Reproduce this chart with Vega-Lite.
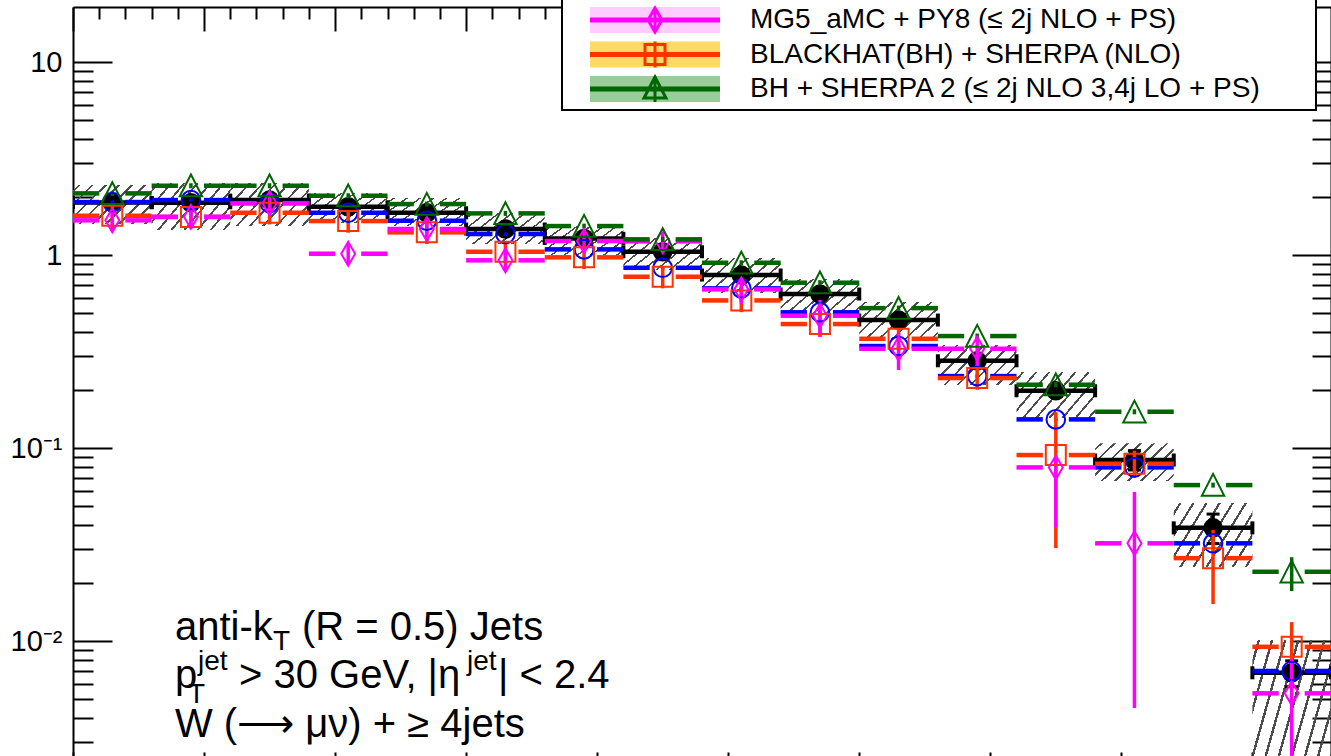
{
"$schema": "https://vega.github.io/schema/vega-lite/v6.json",
"width": 1258,
"height": 769,
"autosize": {"type": "none"},
"padding": {"left": 73, "top": 7, "right": 0, "bottom": 0},
"background": "white",
"config": {"view": {"stroke": null}, "font": "Liberation Sans", "axis": {"domainColor": "black", "domainWidth": 2, "tickColor": "black", "tickWidth": 2, "grid": false, "labelFont": "Liberation Sans", "labelColor": "black", "title": null}},
"datasets": {
"band": [
{"lo":0,"hi":0.3,"blo":1.447,"bhi":2.305},
{"lo":0.3,"hi":0.6,"blo":1.347,"bhi":2.361},
{"lo":0.6,"hi":0.9,"blo":1.413,"bhi":2.361},
{"lo":0.9,"hi":1.2,"blo":1.465,"bhi":2.096},
{"lo":1.2,"hi":1.5,"blo":1.413,"bhi":1.974},
{"lo":1.5,"hi":1.8,"blo":1.14,"bhi":1.651},
{"lo":1.8,"hi":2.1,"blo":1.0,"bhi":1.413},
{"lo":2.1,"hi":2.4,"blo":0.836,"bhi":1.225},
{"lo":2.4,"hi":2.7,"blo":0.636,"bhi":0.965},
{"lo":2.7,"hi":3.0,"blo":0.5005,"bhi":0.751},
{"lo":3.0,"hi":3.3,"blo":0.367,"bhi":0.571},
{"lo":3.3,"hi":3.6,"blo":0.212,"bhi":0.3418},
{"lo":3.6,"hi":3.9,"blo":0.143,"bhi":0.2476},
{"lo":3.9,"hi":4.2,"blo":0.0675,"bhi":0.106},
{"lo":4.2,"hi":4.5,"blo":0.02417,"bhi":0.0519},
{"lo":4.5,"hi":4.8,"blo":0.0019,"bhi":0.01012}
],
"pts": [
{"s":"D","lo":0,"hi":0.3,"x":0.15,"v":1.871,"elo":1.834,"ehi":1.908},
{"s":"D","lo":0.3,"hi":0.6,"x":0.45,"v":1.866,"elo":1.829,"ehi":1.903},
{"s":"D","lo":0.6,"hi":0.9,"x":0.75,"v":1.927,"elo":1.888,"ehi":1.966},
{"s":"D","lo":0.9,"hi":1.2,"x":1.05,"v":1.779,"elo":1.743,"ehi":1.815},
{"s":"D","lo":1.2,"hi":1.5,"x":1.35,"v":1.656,"elo":1.623,"ehi":1.689},
{"s":"D","lo":1.5,"hi":1.8,"x":1.65,"v":1.364,"elo":1.337,"ehi":1.391},
{"s":"D","lo":1.8,"hi":2.1,"x":1.95,"v":1.22,"elo":1.196,"ehi":1.244},
{"s":"D","lo":2.1,"hi":2.4,"x":2.25,"v":1.04,"elo":1.019,"ehi":1.061},
{"s":"D","lo":2.4,"hi":2.7,"x":2.55,"v":0.788,"elo":0.772,"ehi":0.804},
{"s":"D","lo":2.7,"hi":3.0,"x":2.85,"v":0.628,"elo":0.615,"ehi":0.641},
{"s":"D","lo":3.0,"hi":3.3,"x":3.15,"v":0.4605,"elo":0.451,"ehi":0.47},
{"s":"D","lo":3.3,"hi":3.6,"x":3.45,"v":0.2833,"elo":0.2776,"ehi":0.289},
{"s":"D","lo":3.6,"hi":3.9,"x":3.75,"v":0.1981,"elo":0.19,"ehi":0.206},
{"s":"D","lo":3.9,"hi":4.2,"x":4.05,"v":0.0867,"elo":0.077,"ehi":0.097},
{"s":"D","lo":4.2,"hi":4.5,"x":4.35,"v":0.0386,"elo":0.032,"ehi":0.0455},
{"s":"D","lo":4.5,"hi":4.8,"x":4.65,"v":0.00685,"elo":0.0058,"ehi":0.0079},
{"s":"M6","lo":0,"hi":0.3,"x":0.15,"v":1.882,"elo":1.844,"ehi":1.92},
{"s":"M6","lo":0.3,"hi":0.6,"x":0.45,"v":1.927,"elo":1.888,"ehi":1.966},
{"s":"M6","lo":0.6,"hi":0.9,"x":0.75,"v":1.86,"elo":1.823,"ehi":1.897},
{"s":"M6","lo":0.9,"hi":1.2,"x":1.05,"v":1.656,"elo":1.623,"ehi":1.689},
{"s":"M6","lo":1.2,"hi":1.5,"x":1.35,"v":1.506,"elo":1.476,"ehi":1.536},
{"s":"M6","lo":1.5,"hi":1.8,"x":1.65,"v":1.285,"elo":1.259,"ehi":1.311},
{"s":"M6","lo":1.8,"hi":2.1,"x":1.95,"v":1.07,"elo":1.049,"ehi":1.091},
{"s":"M6","lo":2.1,"hi":2.4,"x":2.25,"v":0.859,"elo":0.842,"ehi":0.876},
{"s":"M6","lo":2.4,"hi":2.7,"x":2.55,"v":0.672,"elo":0.659,"ehi":0.685},
{"s":"M6","lo":2.7,"hi":3.0,"x":2.85,"v":0.505,"elo":0.495,"ehi":0.515},
{"s":"M6","lo":3.0,"hi":3.3,"x":3.15,"v":0.3377,"elo":0.331,"ehi":0.3444},
{"s":"M6","lo":3.3,"hi":3.6,"x":3.45,"v":0.236,"elo":0.2313,"ehi":0.2407},
{"s":"M6","lo":3.6,"hi":3.9,"x":3.75,"v":0.1408,"elo":0.138,"ehi":0.1436},
{"s":"M6","lo":3.9,"hi":4.2,"x":4.05,"v":0.0794,"elo":0.0778,"ehi":0.081},
{"s":"M6","lo":4.2,"hi":4.5,"x":4.35,"v":0.0321,"elo":0.0315,"ehi":0.0327},
{"s":"M6","lo":4.5,"hi":4.8,"x":4.65,"v":0.007,"elo":0.00686,"ehi":0.00714},
{"s":"BH","lo":0,"hi":0.3,"x":0.15,"v":1.598,"elo":1.39,"ehi":1.806},
{"s":"BH","lo":0.3,"hi":0.6,"x":0.45,"v":1.574,"elo":1.369,"ehi":1.779},
{"s":"BH","lo":0.6,"hi":0.9,"x":0.75,"v":1.656,"elo":1.441,"ehi":1.871},
{"s":"BH","lo":0.9,"hi":1.2,"x":1.05,"v":1.5,"elo":1.305,"ehi":1.695},
{"s":"BH","lo":1.2,"hi":1.5,"x":1.35,"v":1.311,"elo":1.141,"ehi":1.481},
{"s":"BH","lo":1.5,"hi":1.8,"x":1.65,"v":1.04,"elo":0.905,"ehi":1.175},
{"s":"BH","lo":1.8,"hi":2.1,"x":1.95,"v":0.973,"elo":0.847,"ehi":1.099},
{"s":"BH","lo":2.1,"hi":2.4,"x":2.25,"v":0.772,"elo":0.672,"ehi":0.872},
{"s":"BH","lo":2.4,"hi":2.7,"x":2.55,"v":0.582,"elo":0.506,"ehi":0.658},
{"s":"BH","lo":2.7,"hi":3.0,"x":2.85,"v":0.439,"elo":0.382,"ehi":0.496},
{"s":"BH","lo":3.0,"hi":3.3,"x":3.15,"v":0.3683,"elo":0.32,"ehi":0.416},
{"s":"BH","lo":3.3,"hi":3.6,"x":3.45,"v":0.2305,"elo":0.2005,"ehi":0.2605},
{"s":"BH","lo":3.6,"hi":3.9,"x":3.75,"v":0.092,"elo":0.0303,"ehi":0.1536},
{"s":"BH","lo":3.9,"hi":4.2,"x":4.05,"v":0.0829,"elo":0.07,"ehi":0.097},
{"s":"BH","lo":4.2,"hi":4.5,"x":4.35,"v":0.0269,"elo":0.01555,"ehi":0.0376},
{"s":"BH","lo":4.5,"hi":4.8,"x":4.65,"v":0.00934,"elo":0.0062,"ehi":0.01254},
{"s":"MG","lo":0,"hi":0.3,"x":0.15,"v":1.513,"elo":1.331,"ehi":1.695},
{"s":"MG","lo":0.3,"hi":0.6,"x":0.45,"v":1.579,"elo":1.39,"ehi":1.768},
{"s":"MG","lo":0.6,"hi":0.9,"x":0.75,"v":1.853,"elo":1.631,"ehi":2.075},
{"s":"MG","lo":0.9,"hi":1.2,"x":1.05,"v":1.016,"elo":0.894,"ehi":1.138},
{"s":"MG","lo":1.2,"hi":1.5,"x":1.35,"v":1.364,"elo":1.2,"ehi":1.528},
{"s":"MG","lo":1.5,"hi":1.8,"x":1.65,"v":0.939,"elo":0.826,"ehi":1.052},
{"s":"MG","lo":1.8,"hi":2.1,"x":1.95,"v":1.182,"elo":1.04,"ehi":1.324},
{"s":"MG","lo":2.1,"hi":2.4,"x":2.25,"v":1.178,"elo":1.037,"ehi":1.319},
{"s":"MG","lo":2.4,"hi":2.7,"x":2.55,"v":0.664,"elo":0.563,"ehi":0.76},
{"s":"MG","lo":2.7,"hi":3.0,"x":2.85,"v":0.485,"elo":0.376,"ehi":0.585},
{"s":"MG","lo":3.0,"hi":3.3,"x":3.15,"v":0.327,"elo":0.254,"ehi":0.394},
{"s":"MG","lo":3.3,"hi":3.6,"x":3.45,"v":0.327,"elo":0.263,"ehi":0.376},
{"s":"MG","lo":3.6,"hi":3.9,"x":3.75,"v":0.0794,"elo":0.039,"ehi":0.088},
{"s":"MG","lo":3.9,"hi":4.2,"x":4.05,"v":0.0321,"elo":0.0045,"ehi":0.0592},
{"s":"MG","lo":4.5,"hi":4.8,"x":4.65,"v":0.00536,"elo":0.0015,"ehi":0.0081},
{"s":"S2","lo":0,"hi":0.3,"x":0.15,"v":2.087,"elo":2.024,"ehi":2.15},
{"s":"S2","lo":0.3,"hi":0.6,"x":0.45,"v":2.286,"elo":2.217,"ehi":2.355},
{"s":"S2","lo":0.6,"hi":0.9,"x":0.75,"v":2.286,"elo":2.217,"ehi":2.355},
{"s":"S2","lo":0.9,"hi":1.2,"x":1.05,"v":2.029,"elo":1.968,"ehi":2.09},
{"s":"S2","lo":1.2,"hi":1.5,"x":1.35,"v":1.837,"elo":1.782,"ehi":1.892},
{"s":"S2","lo":1.5,"hi":1.8,"x":1.65,"v":1.644,"elo":1.595,"ehi":1.693},
{"s":"S2","lo":1.8,"hi":2.1,"x":1.95,"v":1.413,"elo":1.371,"ehi":1.455},
{"s":"S2","lo":2.1,"hi":2.4,"x":2.25,"v":1.206,"elo":1.17,"ehi":1.242},
{"s":"S2","lo":2.4,"hi":2.7,"x":2.55,"v":0.912,"elo":0.885,"ehi":0.939},
{"s":"S2","lo":2.7,"hi":3.0,"x":2.85,"v":0.719,"elo":0.697,"ehi":0.741},
{"s":"S2","lo":3.0,"hi":3.3,"x":3.15,"v":0.531,"elo":0.515,"ehi":0.547},
{"s":"S2","lo":3.3,"hi":3.6,"x":3.45,"v":0.3804,"elo":0.369,"ehi":0.392},
{"s":"S2","lo":3.6,"hi":3.9,"x":3.75,"v":0.2129,"elo":0.2065,"ehi":0.2193},
{"s":"S2","lo":3.9,"hi":4.2,"x":4.05,"v":0.1542,"elo":0.1496,"ehi":0.1588},
{"s":"S2","lo":4.2,"hi":4.5,"x":4.35,"v":0.0643,"elo":0.0624,"ehi":0.0662},
{"s":"S2","lo":4.5,"hi":4.8,"x":4.65,"v":0.02286,"elo":0.01816,"ehi":0.0272}
]
},
"layer": [
{
"data": {"name": "band"},
"mark": {"type": "rect", "clip": true, "fill": {"gradient": "linear", "x1": 0, "y1": 0, "x2": 1.2, "y2": 0.6, "stops": [
{"offset":0,"color":"rgba(255,255,255,0)"},
{"offset":0.0451,"color":"rgba(255,255,255,0)"},{"offset":0.0451,"color":"#4d4d4d"},{"offset":0.0661,"color":"#4d4d4d"},{"offset":0.0661,"color":"rgba(255,255,255,0)"},
{"offset":0.1562,"color":"rgba(255,255,255,0)"},{"offset":0.1562,"color":"#4d4d4d"},{"offset":0.1772,"color":"#4d4d4d"},{"offset":0.1772,"color":"rgba(255,255,255,0)"},
{"offset":0.2673,"color":"rgba(255,255,255,0)"},{"offset":0.2673,"color":"#4d4d4d"},{"offset":0.2883,"color":"#4d4d4d"},{"offset":0.2883,"color":"rgba(255,255,255,0)"},
{"offset":0.3784,"color":"rgba(255,255,255,0)"},{"offset":0.3784,"color":"#4d4d4d"},{"offset":0.3994,"color":"#4d4d4d"},{"offset":0.3994,"color":"rgba(255,255,255,0)"},
{"offset":0.4895,"color":"rgba(255,255,255,0)"},{"offset":0.4895,"color":"#4d4d4d"},{"offset":0.5105,"color":"#4d4d4d"},{"offset":0.5105,"color":"rgba(255,255,255,0)"},
{"offset":0.6006,"color":"rgba(255,255,255,0)"},{"offset":0.6006,"color":"#4d4d4d"},{"offset":0.6216,"color":"#4d4d4d"},{"offset":0.6216,"color":"rgba(255,255,255,0)"},
{"offset":0.7117,"color":"rgba(255,255,255,0)"},{"offset":0.7117,"color":"#4d4d4d"},{"offset":0.7327,"color":"#4d4d4d"},{"offset":0.7327,"color":"rgba(255,255,255,0)"},
{"offset":0.8228,"color":"rgba(255,255,255,0)"},{"offset":0.8228,"color":"#4d4d4d"},{"offset":0.8438,"color":"#4d4d4d"},{"offset":0.8438,"color":"rgba(255,255,255,0)"},
{"offset":0.9339,"color":"rgba(255,255,255,0)"},{"offset":0.9339,"color":"#4d4d4d"},{"offset":0.9549,"color":"#4d4d4d"},{"offset":0.9549,"color":"rgba(255,255,255,0)"},
{"offset":1,"color":"rgba(255,255,255,0)"}
]}},
"encoding": {
"x": {"field": "lo", "type": "quantitative", "scale": {"domain": [0, 4.8], "nice": false, "zero": false},
 "axis": {"orient": "bottom", "title": null, "labels": false, "tickSize": -24,
 "values": [0,0.5,1,1.5,2,2.5,3,3.5,4,4.5]}},
"x2": {"field": "hi"},
"y": {"field": "blo", "type": "quantitative", "scale": {"type": "log", "domain": [0.002, 19.28], "nice": false},
 "axis": {"orient": "left", "title": null, "tickSize": -39, "labelPadding": 50, "labelFontSize": 29, "labelFont": "Liberation Sans", "labelOverlap": false, "labelBound": false, "labelFlush": false,
 "values": [0.01,0.1,1,10],
 "labelExpr": "datum.value > 5 ? '10' : datum.value > 0.5 ? '1' : datum.value > 0.05 ? '10⁻¹' : '10⁻²'"}},
"y2": {"field": "bhi"}
}
},
{
"data": {"name": "pts"},
"transform": [{"filter": "datum.s == 'D'"}],
"mark": {"type": "rule", "clip": true, "strokeWidth": 4.5, "color": "black"},
"encoding": {
"x": {"field": "lo", "type": "quantitative",
 "axis": {"orient": "top", "title": null, "labels": false, "tickSize": -24,
 "values": [0,0.5,1,1.5,2,2.5,3,3.5,4,4.5]}},
"x2": {"field": "hi"},
"y": {"field": "v", "type": "quantitative",
 "axis": {"orient": "right", "title": null, "labels": false, "tickSize": -39,
 "values": [0.01,0.1,1,10]}}
}
},
{
"data": {"name": "pts"},
"transform": [{"filter": "datum.s == 'D'"}],
"mark": {"type": "tick", "orient": "vertical", "size": 13, "thickness": 4, "color": "black", "opacity": 1, "clip": true},
"encoding": {
"x": {"field": "lo", "type": "quantitative",
 "axis": {"orient": "bottom", "title": null, "labels": false, "domain": false, "tickSize": -12,
 "values": [0.1,0.2,0.3,0.4,0.6,0.7,0.8,0.9,1.1,1.2,1.3,1.4,1.6,1.7,1.8,1.9,2.1,2.2,2.3,2.4,2.6,2.7,2.8,2.9,3.1,3.2,3.3,3.4,3.6,3.7,3.8,3.9,4.1,4.2,4.3,4.4,4.6,4.7]}},
"y": {"field": "v", "type": "quantitative",
 "axis": {"orient": "left", "title": null, "labels": false, "domain": false, "tickSize": -20,
 "values": [0.002,0.003,0.004,0.005,0.006,0.007,0.008,0.009,0.02,0.03,0.04,0.05,0.06,0.07,0.08,0.09,0.2,0.3,0.4,0.5,0.6,0.7,0.8,0.9,2,3,4,5,6,7,8,9]}}
}
},
{
"data": {"name": "pts"},
"transform": [{"filter": "datum.s == 'D'"}],
"mark": {"type": "tick", "orient": "vertical", "size": 13, "thickness": 4, "color": "black", "opacity": 1, "clip": true},
"encoding": {
"x": {"field": "hi", "type": "quantitative",
 "axis": {"orient": "top", "title": null, "labels": false, "domain": false, "tickSize": -12,
 "values": [0.1,0.2,0.3,0.4,0.6,0.7,0.8,0.9,1.1,1.2,1.3,1.4,1.6,1.7,1.8,1.9,2.1,2.2,2.3,2.4,2.6,2.7,2.8,2.9,3.1,3.2,3.3,3.4,3.6,3.7,3.8,3.9,4.1,4.2,4.3,4.4,4.6,4.7]}},
"y": {"field": "v", "type": "quantitative",
 "axis": {"orient": "right", "title": null, "labels": false, "domain": false, "tickSize": -19,
 "values": [0.002,0.003,0.004,0.005,0.006,0.007,0.008,0.009,0.02,0.03,0.04,0.05,0.06,0.07,0.08,0.09,0.2,0.3,0.4,0.5,0.6,0.7,0.8,0.9,2,3,4,5,6,7,8,9]}}
}
},
{
"data": {"name": "pts"},
"transform": [{"filter": "datum.s == 'D'"}],
"mark": {"type": "rule", "clip": true, "strokeWidth": 3.5, "color": "black"},
"encoding": {"x": {"field": "x", "type": "quantitative", "axis": null}, "y": {"field": "elo", "type": "quantitative", "axis": null}, "y2": {"field": "ehi"}}
},
{
"data": {"name": "pts"},
"transform": [{"filter": "datum.s == 'D'"}],
"mark": {"type": "tick", "orient": "horizontal", "size": 13, "thickness": 3, "color": "black", "opacity": 1, "clip": true},
"encoding": {"x": {"field": "x", "type": "quantitative", "axis": null}, "y": {"field": "ehi", "type": "quantitative", "axis": null}}
},
{
"data": {"name": "pts"},
"transform": [{"filter": "datum.s == 'D'"}],
"mark": {"type": "tick", "orient": "horizontal", "size": 13, "thickness": 3, "color": "black", "opacity": 1, "clip": true},
"encoding": {"x": {"field": "x", "type": "quantitative", "axis": null}, "y": {"field": "elo", "type": "quantitative", "axis": null}}
},
{
"data": {"name": "pts"},
"transform": [{"filter": "datum.s == 'D'"}],
"mark": {"type": "point", "shape": "circle", "filled": true, "size": 380, "color": "black", "opacity": 1, "clip": true},
"encoding": {"x": {"field": "x", "type": "quantitative", "axis": null}, "y": {"field": "v", "type": "quantitative", "axis": null}}
},
{
"data": {"name": "pts"},
"transform": [{"filter": "datum.s != 'D'"}],
"mark": {"type": "rule", "clip": true, "strokeWidth": 4.5, "x2Offset": -13},
"encoding": {
"x": {"field": "lo", "type": "quantitative", "axis": null},
"x2": {"field": "x"},
"y": {"field": "v", "type": "quantitative", "axis": null},
"stroke": {"field": "s", "type": "nominal",
 "scale": {"domain": ["D","M6","MG","BH","S2"], "range": ["#000000","#0000ff","#ff00ff","#ff3300","#006600"]},
 "legend": {"orient": "none", "legendX": 489, "legendY": -77, "title": null, "direction": "vertical", "padding": 4, "rowPadding": 0.5, "clipHeight": 34,
  "symbolSize": 961, "symbolStrokeWidth": 3, "labelFont": "Liberation Sans", "labelFontSize": 28, "labelColor": "black", "labelLimit": 3000, "labelOffset": 150,
  "labelExpr": "(datum.label == 'D' ? 'Data' : datum.label == 'M6' ? 'MADGRAPH 5 + PY6 (≤ 4j LO + PS)' : datum.label == 'MG' ? 'MG5_aMC + PY8 (≤ 2j NLO + PS)' : datum.label == 'BH' ? 'BLACKHAT(BH) + SHERPA (NLO)' : 'BH + SHERPA 2 (≤ 2j NLO 3,4j LO + PS)') + ' \u2800\u2800'",
  "strokeColor": "black", "zindex": 2,
  "encode": {
   "symbols": {"update": {
     "shape": {"signal": "datum.value == 'D' ? 'M0.45,-0.065H8.84M0.45,0.065H8.84M4.645,-0.84V0.84M3.935,0A0.71,0.71 0 1,0 5.355,0A0.71,0.71 0 1,0 3.935,0' : datum.value == 'M6' ? 'M0.45,-0.065H8.84M0.45,0.065H8.84M4.645,-0.84V0.84M4,0A0.645,0.645 0 1,0 5.29,0A0.645,0.645 0 1,0 4,0' : datum.value == 'MG' ? 'M0.45,-0.065H8.84M0.45,0.065H8.84M4.645,-0.84V0.84M4.645,-0.774L5.095,0L4.645,0.774L4.195,0Z' : datum.value == 'BH' ? 'M0.45,-0.065H8.84M0.45,0.065H8.84M4.645,-0.84V0.84M4,-0.645H5.29V0.645H4Z' : 'M0.45,-0.065H8.84M0.45,0.065H8.84M4.645,-0.84V0.84M4.645,-0.774L5.355,0.58H3.935Z'"},
     "fill": {"value": "transparent"},
     "strokeWidth": {"value": 3},
     "opacity": {"value": 1}}},
   "legend": {"update": {"strokeWidth": {"value": 2}}}
  }}}
}
},
{
"data": {"name": "pts"},
"transform": [{"filter": "datum.s != 'D'"}],
"mark": {"type": "rule", "clip": true, "strokeWidth": 4.5, "xOffset": 13},
"encoding": {
"x": {"field": "x", "type": "quantitative", "axis": null},
"x2": {"field": "hi"},
"y": {"field": "v", "type": "quantitative", "axis": null},
"stroke": {"field": "s", "type": "nominal", "legend": null}
}
},
{
"data": {"name": "pts"},
"transform": [{"filter": "datum.s != 'D'"}],
"mark": {"type": "rule", "clip": true, "strokeWidth": 3.5},
"encoding": {
"x": {"field": "x", "type": "quantitative", "axis": null},
"y": {"field": "elo", "type": "quantitative", "axis": null},
"y2": {"field": "ehi"},
"stroke": {"field": "s", "type": "nominal", "legend": null}
}
},
{
"data": {"name": "pts"},
"transform": [{"filter": "datum.s == 'M6'"}],
"mark": {"type": "point", "shape": "circle", "filled": false, "size": 346, "color": "#0000ff", "strokeWidth": 2, "opacity": 1, "clip": true},
"encoding": {"x": {"field": "x", "type": "quantitative", "axis": null}, "y": {"field": "v", "type": "quantitative", "axis": null}}
},
{
"data": {"name": "pts"},
"transform": [{"filter": "datum.s == 'BH'"}],
"mark": {"type": "point", "shape": "square", "filled": false, "size": 400, "color": "#ff3300", "strokeWidth": 2, "opacity": 1, "clip": true},
"encoding": {"x": {"field": "x", "type": "quantitative", "axis": null}, "y": {"field": "v", "type": "quantitative", "axis": null}}
},
{
"data": {"name": "pts"},
"transform": [{"filter": "datum.s == 'MG'"}],
"mark": {"type": "point", "shape": "M0,-1L0.58,0L0,1L-0.58,0Z", "filled": false, "size": 576, "color": "#ff00ff", "strokeWidth": 2, "opacity": 1, "clip": true},
"encoding": {"x": {"field": "x", "type": "quantitative", "axis": null}, "y": {"field": "v", "type": "quantitative", "axis": null}}
},
{
"data": {"name": "pts"},
"transform": [{"filter": "datum.s == 'S2'"}],
"mark": {"type": "point", "shape": "M0,-1L1,0.95L-1,0.95Z", "filled": false, "size": 500, "color": "#006600", "strokeWidth": 2, "opacity": 1, "clip": true},
"encoding": {"x": {"field": "x", "type": "quantitative", "axis": null}, "y": {"field": "v", "type": "quantitative", "axis": null}}
},
{
"data": {"name": "pts"},
"mark": {"type": "point", "filled": true, "opacity": 0, "size": 1},
"encoding": {
"x": {"field": "x", "type": "quantitative", "axis": null},
"y": {"field": "v", "type": "quantitative", "axis": null},
"fill": {"field": "s", "type": "nominal",
 "scale": {"domain": ["fD","fM6","fMG","fBH","fS2"], "range": ["#d0d0d0","#b3b3ff","#ffccff","#ffd966","#99cc99"]},
 "legend": {"orient": "none", "legendX": 489, "legendY": -77, "title": null, "direction": "vertical", "padding": 4, "rowPadding": 0.5, "clipHeight": 34,
  "symbolSize": 961, "symbolStrokeWidth": 3, "symbolStrokeColor": "transparent", "symbolOpacity": 1, "symbolType": "M0.45,-0.84H8.84V0.84H0.45Z",
  "labelFont": "Liberation Sans", "labelFontSize": 28, "labelLimit": 3000, "labelOffset": 150, "labelOpacity": 0,
  "labelExpr": "(datum.label == 'fD' ? 'Data' : datum.label == 'fM6' ? 'MADGRAPH 5 + PY6 (≤ 4j LO + PS)' : datum.label == 'fMG' ? 'MG5_aMC + PY8 (≤ 2j NLO + PS)' : datum.label == 'fBH' ? 'BLACKHAT(BH) + SHERPA (NLO)' : 'BH + SHERPA 2 (≤ 2j NLO 3,4j LO + PS)') + ' \u2800\u2800'",
  "fillColor": "white", "zindex": 1}}
}
},
{
"data": {"values": [{}]},
"mark": {"type": "text", "text": "anti-k", "font": "Liberation Sans", "fontSize": 40, "align": "left", "baseline": "alphabetic", "color": "black"},
"encoding": {"x": {"datum": 0.389, "type": "quantitative", "axis": null}, "y": {"datum": 0.01012, "type": "quantitative", "axis": null}}
},
{
"data": {"values": [{}]},
"mark": {"type": "text", "text": "T", "font": "Liberation Sans", "fontSize": 28, "align": "left", "baseline": "alphabetic", "color": "black", "dx": 98, "dy": 10},
"encoding": {"x": {"datum": 0.389, "type": "quantitative", "axis": null}, "y": {"datum": 0.01012, "type": "quantitative", "axis": null}}
},
{
"data": {"values": [{}]},
"mark": {"type": "text", "text": "(R = 0.5) Jets", "font": "Liberation Sans", "fontSize": 40, "align": "left", "baseline": "alphabetic", "color": "black", "dx": 127},
"encoding": {"x": {"datum": 0.389, "type": "quantitative", "axis": null}, "y": {"datum": 0.01012, "type": "quantitative", "axis": null}}
},
{
"data": {"values": [{}]},
"mark": {"type": "text", "text": "p", "font": "Liberation Sans", "fontSize": 40, "align": "left", "baseline": "alphabetic", "color": "black"},
"encoding": {"x": {"datum": 0.389, "type": "quantitative", "axis": null}, "y": {"datum": 0.005706, "type": "quantitative", "axis": null}}
},
{
"data": {"values": [{}]},
"mark": {"type": "text", "text": "jet", "font": "Liberation Sans", "fontSize": 28, "align": "left", "baseline": "alphabetic", "color": "black", "dx": 23, "dy": -18},
"encoding": {"x": {"datum": 0.389, "type": "quantitative", "axis": null}, "y": {"datum": 0.005706, "type": "quantitative", "axis": null}}
},
{
"data": {"values": [{}]},
"mark": {"type": "text", "text": "T", "font": "Liberation Sans", "fontSize": 28, "align": "left", "baseline": "alphabetic", "color": "black", "dx": 13, "dy": 15},
"encoding": {"x": {"datum": 0.389, "type": "quantitative", "axis": null}, "y": {"datum": 0.005706, "type": "quantitative", "axis": null}}
},
{
"data": {"values": [{}]},
"mark": {"type": "text", "text": "> 30 GeV, |η", "font": "Liberation Sans", "fontSize": 40, "align": "left", "baseline": "alphabetic", "color": "black", "dx": 64},
"encoding": {"x": {"datum": 0.389, "type": "quantitative", "axis": null}, "y": {"datum": 0.005706, "type": "quantitative", "axis": null}}
},
{
"data": {"values": [{}]},
"mark": {"type": "text", "text": "jet", "font": "Liberation Sans", "fontSize": 28, "align": "left", "baseline": "alphabetic", "color": "black", "dx": 292, "dy": -18},
"encoding": {"x": {"datum": 0.389, "type": "quantitative", "axis": null}, "y": {"datum": 0.005706, "type": "quantitative", "axis": null}}
},
{
"data": {"values": [{}]},
"mark": {"type": "text", "text": "| < 2.4", "font": "Liberation Sans", "fontSize": 40, "align": "left", "baseline": "alphabetic", "color": "black", "dx": 323},
"encoding": {"x": {"datum": 0.389, "type": "quantitative", "axis": null}, "y": {"datum": 0.005706, "type": "quantitative", "axis": null}}
},
{
"data": {"values": [{}]},
"mark": {"type": "text", "text": "W (⟶ μν) + ≥ 4jets", "font": "Liberation Sans", "fontSize": 40, "align": "left", "baseline": "alphabetic", "color": "black"},
"encoding": {"x": {"datum": 0.389, "type": "quantitative", "axis": null}, "y": {"datum": 0.003181, "type": "quantitative", "axis": null}}
}
],
"resolve": {"axis": {"x": "independent", "y": "independent"}}
}
